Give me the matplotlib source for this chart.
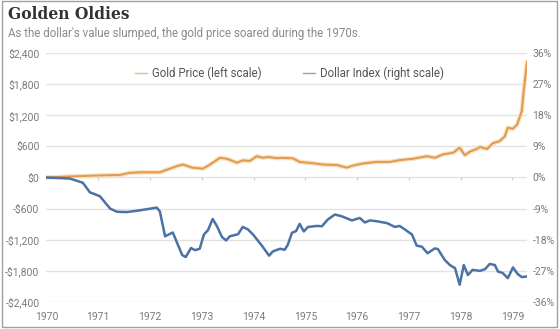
import numpy as np
import matplotlib.pyplot as plt
import matplotlib.patheffects as pe
from matplotlib.patches import Rectangle

# Data (decimal years)
gold_years = [1970.00, 1970.45, 1971.03, 1971.42, 1971.61, 1971.80, 1972.19, 1972.38,
              1972.52, 1972.64, 1972.81, 1973.02, 1973.16, 1973.35, 1973.49, 1973.68,
              1973.79, 1973.93, 1974.06, 1974.18, 1974.28, 1974.47, 1974.51, 1974.76,
              1974.89, 1975.14, 1975.34, 1975.61, 1975.80, 1975.92, 1976.11, 1976.38,
              1976.63, 1976.82, 1977.07, 1977.35, 1977.50, 1977.66, 1977.86, 1977.98,
              1978.08, 1978.18, 1978.31, 1978.37, 1978.51, 1978.62, 1978.75, 1978.85,
              1978.91, 1979.01, 1979.09, 1979.18, 1979.22, 1979.28]
gold_price = [0, 20, 40, 50, 90, 100, 100, 170,
              220, 250, 190, 170, 250, 380, 360, 285,
              330, 320, 410, 380, 395, 370, 380, 370,
              300, 275, 250, 240, 190, 230, 270, 300,
              300, 335, 360, 410, 380, 445, 480, 575,
              430, 500, 550, 590, 550, 660, 700, 790,
              960, 940, 1020, 1280, 1700, 2220]

dollar_years = [1970.00, 1970.45, 1970.70, 1970.84, 1971.03, 1971.23, 1971.36, 1971.55,
                1971.80, 1972.13, 1972.19, 1972.29, 1972.44, 1972.62, 1972.69, 1972.79,
                1972.87, 1972.96, 1973.04, 1973.12, 1973.21, 1973.29, 1973.39, 1973.47,
                1973.54, 1973.70, 1973.79, 1973.89, 1973.99, 1974.16, 1974.30, 1974.37,
                1974.51, 1974.60, 1974.66, 1974.74, 1974.82, 1974.89, 1974.97, 1975.05,
                1975.22, 1975.32, 1975.43, 1975.57, 1975.70, 1975.90, 1976.05, 1976.15,
                1976.25, 1976.40, 1976.58, 1976.73, 1976.82, 1976.92, 1977.06, 1977.15,
                1977.25, 1977.36, 1977.50, 1977.56, 1977.69, 1977.79, 1977.89, 1977.98,
                1978.06, 1978.14, 1978.23, 1978.37, 1978.47, 1978.56, 1978.66, 1978.72,
                1978.81, 1978.91, 1979.01, 1979.10, 1979.18, 1979.28]
dollar_index = [0, -0.3, -1.5, -4.3, -5.4, -9.0, -9.9, -10.0,
                -9.5, -8.7, -9.8, -17.0, -15.9, -22.4, -23.0, -20.4,
                -21.0, -20.6, -16.5, -15.2, -12.0, -14.0, -17.2, -18.2,
                -17.0, -16.4, -14.3, -15.0, -16.5, -19.7, -22.6, -21.4,
                -20.6, -20.9, -19.5, -16.0, -15.5, -13.4, -15.6, -14.3,
                -14.0, -14.1, -12.2, -10.7, -11.2, -12.4, -11.7, -13.0,
                -12.4, -12.7, -13.2, -14.3, -14.0, -15.0, -16.5, -19.7,
                -20.0, -21.9, -20.5, -20.7, -23.8, -25.3, -26.2, -31.0,
                -25.3, -28.2, -26.7, -27.0, -26.5, -25.0, -25.3, -27.2,
                -27.6, -29.1, -26.0, -27.9, -28.8, -28.6]

year_ticks = list(range(1970, 1980))
left_ticks = [-2400, -1800, -1200, -600, 0, 600, 1200, 1800, 2400]
right_ticks = [-36, -27, -18, -9, 0, 9, 18, 27, 36]

GOLD = "#E09A4C"
BLUE = "#4A72A6"
GRID = "#E2E2E2"
TICK = "#7A7A7A"

plt.rcParams["font.family"] = ["Roboto", "DejaVu Sans"]

fig = plt.figure(figsize=(5.6, 3.29), dpi=100)
ax = fig.add_axes([0.083, 0.082, 0.858, 0.757])
ax2 = ax.twinx()

ax.set_xlim(1970, 1979.28)
ax.set_ylim(-2400, 2400)
ax2.set_ylim(-36, 36)

for y in left_ticks:
    ax.axhline(y, color=GRID, lw=1.0, zorder=0)
ax.vlines(year_ticks, -55, 0, color="#CFCFCF", lw=0.8, zorder=0)

ax.plot(gold_years, gold_price, color=GOLD, lw=1.4, solid_joinstyle="round",
        label="Gold Price (left scale)",
        path_effects=[pe.Stroke(linewidth=3.2, foreground="#F8DFC0"), pe.Normal()])
ax2.plot(dollar_years, dollar_index, color=BLUE, lw=1.8, solid_joinstyle="round",
         label="Dollar Index (right scale)", zorder=3)

ax.set_xticks(year_ticks)
ax.set_xticklabels([str(y) for y in year_ticks])
ax.set_yticks(left_ticks)
ax.set_yticklabels([f"-${abs(v):,}" if v < 0 else f"${v:,}" for v in left_ticks])
ax2.set_yticks(right_ticks)
ax2.set_yticklabels([f"{v}%" for v in right_ticks])

for a in (ax, ax2):
    for s in a.spines.values():
        s.set_visible(False)
    a.tick_params(length=0, colors=TICK, labelsize=7.5)
ax.tick_params(axis="x", pad=7)
ax.tick_params(axis="y", pad=5)
ax2.tick_params(axis="y", pad=4)

# Legend entries
h1, = ax.plot([], [], color="#EDB97E", lw=1.0)
h2, = ax.plot([], [], color="#8BA3C3", lw=1.0)
fig.legend([h1], ["Gold Price (left scale)"], loc="center left",
           bbox_to_anchor=(0.222, 0.778), frameon=False, fontsize=8.3,
           handlelength=1.1, handletextpad=0.4, labelcolor="#555555")
fig.legend([h2], ["Dollar Index (right scale)"], loc="center left",
           bbox_to_anchor=(0.522, 0.778), frameon=False, fontsize=8.3,
           handlelength=1.1, handletextpad=0.4, labelcolor="#555555")

fig.text(0.014, 0.955, "Golden Oldies", family="DejaVu Serif", weight="bold",
         fontsize=11.2, color="#333333", va="center")
fig.text(0.014, 0.897, "As the dollar's value slumped, the gold price soared during the 1970s.",
         fontsize=8.3, color="#8A8A8A", va="center")

fig.patches.append(Rectangle((0.004, 0.006), 0.991, 0.99, transform=fig.transFigure,
                             fill=False, edgecolor="#A0A0A0", lw=1.0))

fig.savefig("out.png", dpi=100)
